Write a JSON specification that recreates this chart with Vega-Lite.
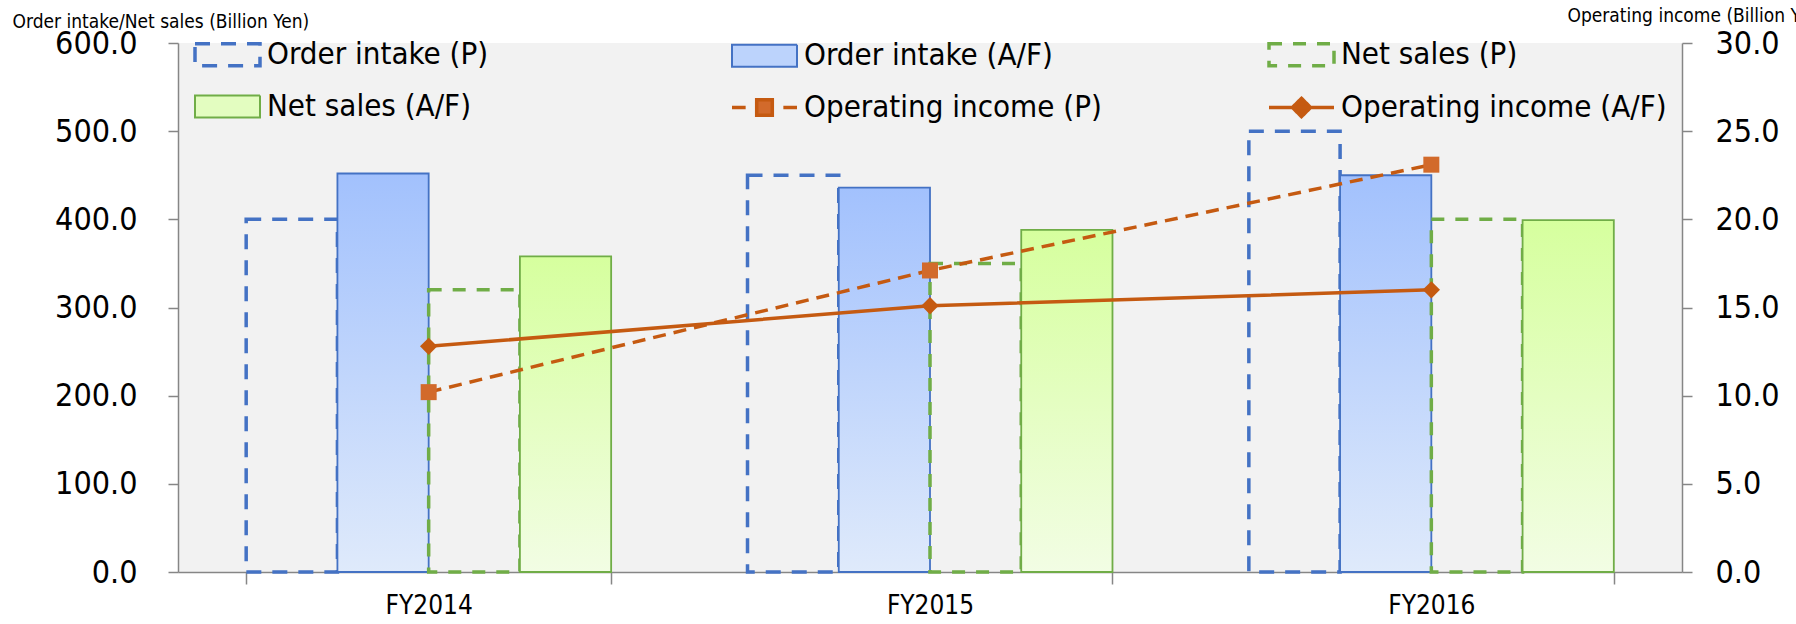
{
  "$schema": "https://vega.github.io/schema/vega-lite/v6.json",
  "width": 1504,
  "height": 529,
  "autosize": {"type": "none"},
  "padding": {"left": 178, "top": 43, "right": 114, "bottom": 52},
  "config": {
    "view": {"fill": "#f2f2f2", "stroke": null},
    "font": "Liberation Sans Narrow, DejaVu Sans Condensed, sans-serif",
    "axis": {"domainColor": "#868686", "tickColor": "#868686", "domainWidth": 1.5, "tickWidth": 1.5, "grid": false, "labelColor": "#000000", "titleColor": "#000000", "titleFontWeight": "normal"},
    "legend": {"title": null, "orient": "none", "legendX": 15, "legendY": -23, "columns": 3, "gridAlign": "all", "columnPadding": 132, "rowPadding": -3,
      "symbolSize": 4225, "symbolOpacity": 1, "labelOffset": 5, "labelFontSize": 31, "labelLimit": 0, "labelColor": "#000000", "padding": 0}
  },
  "data": {
    "values": [
      {"fy": "FY2014", "series": "Order intake (P)", "value": 400},
      {"fy": "FY2014", "series": "Order intake (A/F)", "value": 452},
      {"fy": "FY2014", "series": "Net sales (P)", "value": 320},
      {"fy": "FY2014", "series": "Net sales (A/F)", "value": 358},
      {"fy": "FY2014", "series": "Operating income (P)", "value": 10.2},
      {"fy": "FY2014", "series": "Operating income (A/F)", "value": 12.8},
      {"fy": "FY2015", "series": "Order intake (P)", "value": 450},
      {"fy": "FY2015", "series": "Order intake (A/F)", "value": 436},
      {"fy": "FY2015", "series": "Net sales (P)", "value": 350},
      {"fy": "FY2015", "series": "Net sales (A/F)", "value": 388},
      {"fy": "FY2015", "series": "Operating income (P)", "value": 17.1},
      {"fy": "FY2015", "series": "Operating income (A/F)", "value": 15.1},
      {"fy": "FY2016", "series": "Order intake (P)", "value": 500},
      {"fy": "FY2016", "series": "Order intake (A/F)", "value": 450},
      {"fy": "FY2016", "series": "Net sales (P)", "value": 400},
      {"fy": "FY2016", "series": "Net sales (A/F)", "value": 399},
      {"fy": "FY2016", "series": "Operating income (P)", "value": 23.1},
      {"fy": "FY2016", "series": "Operating income (A/F)", "value": 16.0}
    ]
  },
  "layer": [
    {
      "encoding": {
        "x": {"field": "fy", "type": "nominal", "scale": {"paddingInner": 0.272, "paddingOuter": 0.136},
          "axis": {"title": null, "labelFontSize": 26, "tickSize": 12, "tickBand": "extent", "labelPadding": 8, "labelAngle": 0}},
        "xOffset": {"field": "series", "type": "nominal", "scale": {"domain": ["Order intake (P)", "Order intake (A/F)", "Net sales (P)", "Net sales (A/F)"]}},
        "y": {"field": "value", "type": "quantitative", "scale": {"domain": [0, 600], "nice": false},
          "axis": {"title": "Order intake/Net sales (Billion Yen)", "values": [0, 100, 200, 300, 400, 500, 600], "format": ".1f", "labelFontSize": 32, "tickSize": 10, "labelPadding": 31,
            "titleAngle": 0, "titleAlign": "left", "titleBaseline": "alphabetic", "titleX": -166, "titleY": -16, "titleFontSize": 19}}
      },
      "layer": [
        {"transform": [{"filter": "datum.series === 'Order intake (P)'"}],
         "mark": {"type": "bar", "fill": "transparent", "stroke": "#4472c4", "strokeWidth": 3.5, "strokeDash": [15, 11]}},
        {"transform": [{"filter": "datum.series === 'Order intake (A/F)'"}],
         "mark": {"type": "bar", "stroke": "#4472c4", "strokeWidth": 1.8,
           "fill": {"gradient": "linear", "x1": 0, "y1": 0, "x2": 0, "y2": 1, "stops": [{"offset": 0, "color": "#a2c1fd"}, {"offset": 1, "color": "#dfeafb"}]}}},
        {"transform": [{"filter": "datum.series === 'Net sales (P)'"}],
         "mark": {"type": "bar", "fill": "transparent", "stroke": "#70ad47", "strokeWidth": 3.5, "strokeDash": [13, 11]}},
        {"transform": [{"filter": "datum.series === 'Net sales (A/F)'"}],
         "mark": {"type": "bar", "stroke": "#70ad47", "strokeWidth": 1.8,
           "fill": {"gradient": "linear", "x1": 0, "y1": 0, "x2": 0, "y2": 1, "stops": [{"offset": 0, "color": "#d6ff9e"}, {"offset": 1, "color": "#f2fde4"}]}}}
      ]
    },
    {
      "encoding": {
        "x": {"field": "fy", "type": "nominal"},
        "y": {"field": "value", "type": "quantitative", "scale": {"domain": [0, 30], "nice": false},
          "axis": {"orient": "right", "title": "Operating income (Billion Yen)", "values": [0, 5, 10, 15, 20, 25, 30], "format": ".1f", "labelFontSize": 32, "tickSize": 10, "labelPadding": 23,
            "titleAngle": 0, "titleAlign": "left", "titleBaseline": "alphabetic", "titleX": -115, "titleY": -22, "titleFontSize": 19}}
      },
      "layer": [
        {"transform": [{"filter": "datum.series === 'Operating income (P)'"}],
         "mark": {"type": "line", "stroke": "#c55a11", "strokeWidth": 3.5, "strokeDash": [13, 8]}},
        {"transform": [{"filter": "datum.series === 'Operating income (A/F)'"}],
         "mark": {"type": "line", "stroke": "#c55a11", "strokeWidth": 3.5}},
        {"transform": [{"filter": "datum.series === 'Operating income (P)'"}],
         "mark": {"type": "point", "shape": "square", "filled": true, "size": 256, "color": "#d26a2b", "opacity": 1}},
        {"transform": [{"filter": "datum.series === 'Operating income (A/F)'"}],
         "mark": {"type": "point", "shape": "diamond", "filled": true, "size": 300, "color": "#c55a11", "opacity": 1}},
        {"mark": {"type": "point", "opacity": 0},
         "encoding": {
           "shape": {"field": "series", "type": "nominal",
             "scale": {"domain": ["Order intake (P)", "Net sales (A/F)", "Order intake (A/F)", "Operating income (P)", "Net sales (P)", "Operating income (A/F)"],
               "range": ["M-1,-0.34H1V0.34H-1Z", "M-1,-0.34H1V0.34H-1Z", "M-1,-0.34H1V0.34H-1Z", "M-1,0H-0.58M0.58,0H1M-0.24,-0.24H0.24V0.24H-0.24Z", "M-1,-0.34H1V0.34H-1Z", "M-1,0H1M0,-0.28L0.28,0L0,0.28L-0.28,0Z"]}},
           "fill": {"field": "series", "type": "nominal",
             "scale": {"domain": ["Order intake (P)", "Net sales (A/F)", "Order intake (A/F)", "Operating income (P)", "Net sales (P)", "Operating income (A/F)"],
               "range": ["transparent", "#e3fdc0", "#bcd3fc", "#d26a2b", "transparent", "#c55a11"]}},
           "stroke": {"field": "series", "type": "nominal",
             "scale": {"domain": ["Order intake (P)", "Net sales (A/F)", "Order intake (A/F)", "Operating income (P)", "Net sales (P)", "Operating income (A/F)"],
               "range": ["#4472c4", "#70ad47", "#4472c4", "#c55a11", "#70ad47", "#c55a11"]}},
           "strokeDash": {"field": "series", "type": "nominal",
             "scale": {"domain": ["Order intake (P)", "Net sales (A/F)", "Order intake (A/F)", "Operating income (P)", "Net sales (P)", "Operating income (A/F)"],
               "range": [[15, 11], [1, 0], [1, 0], [1, 0], [13, 11], [1, 0]]}},
           "strokeWidth": {"field": "series", "type": "nominal",
             "scale": {"type": "ordinal", "domain": ["Order intake (P)", "Net sales (A/F)", "Order intake (A/F)", "Operating income (P)", "Net sales (P)", "Operating income (A/F)"],
               "range": [3.5, 2, 2, 3.5, 3.5, 3.5]}}
         }}
      ]
    }
  ],
  "resolve": {"scale": {"y": "independent"}}
}
